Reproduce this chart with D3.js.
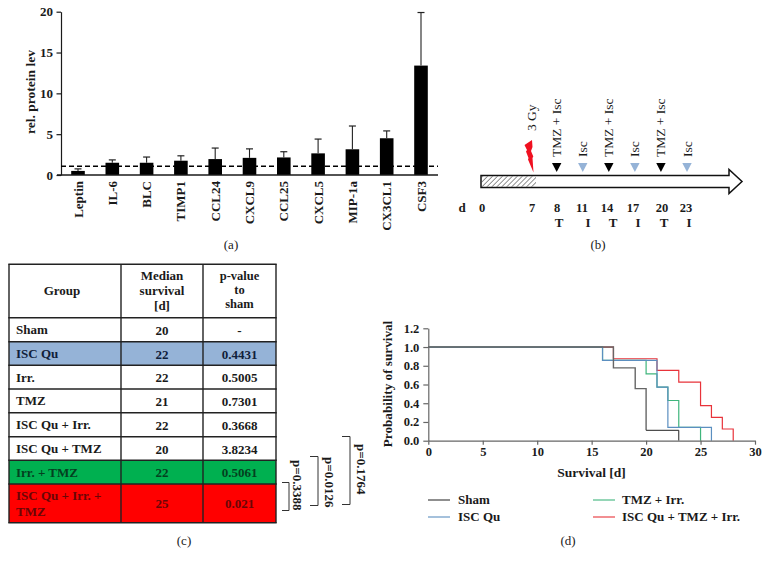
<!DOCTYPE html>
<html><head><meta charset="utf-8">
<script src="https://cdn.jsdelivr.net/npm/d3@7/dist/d3.min.js"></script>
<style>
html,body{margin:0;padding:0;background:#fff}
svg{display:block}
text{font-family:"Liberation Serif",serif;fill:#1a1a1a}
.b{font-weight:bold}
</style></head><body>
<svg id="c" width="769" height="568"></svg>
<script>
// Panel (a)
const proteins=["Leptin","IL-6","BLC","TIMP1","CCL24","CXCL9","CCL25","CXCL5","MIP-1a","CX3CL1","CSF3"];
const proteinMeans=[0.5,1.5,1.5,1.75,1.95,2.1,2.15,2.65,3.15,4.5,13.4];
const proteinTops=[0.75,1.85,2.2,2.35,3.3,3.2,2.85,4.4,6.0,5.4,19.9];
const proteinTicks=[0,5,10,15,20];
const baseline=1.07;
// Panel (b)
const dayLabels=[0,7,8,11,14,17,20,23];
const dayCodes=["T","I","T","I","T","I"];
const treatDays=[8,11,14,17,20,23];
const treatKinds=["TMZ + Isc","Isc","TMZ + Isc","Isc","TMZ + Isc","Isc"];
// Panel (c)
const tableGroups=["Sham","ISC Qu","Irr.","TMZ","ISC Qu + Irr.","ISC Qu + TMZ","Irr. + TMZ","ISC Qu + Irr. +|TMZ"];
const tableMedians=["20","22","22","21","22","20","22","25"];
const tablePvalues=["-","0.4431","0.5005","0.7301","0.3668","3.8234","0.5061","0.021"];
const tableFills=["#fff","#95b3d7","#fff","#fff","#fff","#fff","#00b050","#ff0000"];
const tableInks=["#1a1a1a","#10203a","#1a1a1a","#1a1a1a","#1a1a1a","#1a1a1a","#04401f","#6a0606"];
const bracketLabels=["p=0.3388","p=0.0126","p=0.1764"];
// Panel (d)
const survivalNames=["Sham","ISC Qu","TMZ + Irr.","ISC Qu + TMZ + Irr."];
const survivalColors=["#333","#5b8fc0","#3fb57c","#e8333a"];
const shamSteps=[[0,1],[17,.778],[19,.556],[20,.111],[23,0]];
const iscSteps=[[0,1],[16,.857],[21,.571],[22,.143],[26,0]];
const tmzSteps=[[0,1],[16,.857],[20,.714],[21,.571],[22,.429],[23,.143],[25,0]];
const triSteps=[[0,1],[17,.875],[21,.75],[23,.625],[25,.375],[26,.25],[27,.125],[28,0]];
const survivalXTicks=[0,5,10,15,20,25,30];
const survivalYTicks=[0,.2,.4,.6,.8,1,1.2];

const svg=d3.select("#c");
const ink="#1a1a1a";
function cap(x,y,s){svg.append("text").attr("x",x).attr("y",y).attr("text-anchor","middle").style("font-size","13px").text(s);}

/* ---------- (a) ---------- */
const ax=d3.scalePoint().domain(proteins).range([78,421]);
const ay=d3.scaleLinear().domain([0,20]).range([175,11.7]);
const ga=svg.append("g");
ga.selectAll("rect").data(proteins).join("rect")
 .attr("x",d=>ax(d)-6.8).attr("width",13.6)
 .attr("y",(d,i)=>ay(proteinMeans[i])).attr("height",(d,i)=>ay(0)-ay(proteinMeans[i])).attr("fill","#000");
ga.selectAll("line.e").data(proteins).join("line").attr("class","e")
 .attr("x1",d=>ax(d)).attr("x2",d=>ax(d))
 .attr("y1",(d,i)=>ay(proteinMeans[i])).attr("y2",(d,i)=>ay(proteinTops[i])).attr("stroke","#222").attr("stroke-width",1.1);
ga.selectAll("line.c").data(proteins).join("line").attr("class","c")
 .attr("x1",d=>ax(d)-3.5).attr("x2",d=>ax(d)+3.5)
 .attr("y1",(d,i)=>ay(proteinTops[i])).attr("y2",(d,i)=>ay(proteinTops[i])).attr("stroke","#222").attr("stroke-width",1.2);
const ayAxis=svg.append("g").attr("transform","translate(61,0)")
 .call(d3.axisLeft(ay).tickValues(proteinTicks).tickSize(4.5).tickPadding(3.5).tickSizeOuter(0));
ayAxis.selectAll("path,line").attr("stroke",ink).attr("stroke-width",1.2);
ayAxis.selectAll("text").attr("class","b").style("font-size","13px");
svg.append("line").attr("x1",57).attr("x2",438).attr("y1",ay(0)).attr("y2",ay(0)).attr("stroke",ink).attr("stroke-width",1.3);
svg.append("line").attr("x1",61).attr("x2",438).attr("y1",ay(baseline)).attr("y2",ay(baseline))
 .attr("stroke","#000").attr("stroke-width",1.5).attr("stroke-dasharray","5 3");
svg.selectAll("text.pl").data(proteins).join("text").attr("class","pl b")
 .attr("text-anchor","end").style("font-size","13px")
 .attr("transform",d=>`translate(${ax(d)+4.5},181) rotate(-90)`).text(d=>d);
svg.append("text").attr("class","b").attr("text-anchor","middle").style("font-size","13.5px")
 .attr("transform","translate(35,92) rotate(-90)").text("rel. protein lev");
cap(231,249,"(a)");

/* ---------- (b) ---------- */
const bx=d3.scaleLinear().domain([8,23]).range([556.7,687]);
const defs=svg.append("defs");
const pat=defs.append("pattern").attr("id","hatch").attr("patternUnits","userSpaceOnUse").attr("width",3.5).attr("height",3.5).attr("patternTransform","rotate(45)");
pat.append("line").attr("x1",0).attr("x2",0).attr("y1",0).attr("y2",3.5).attr("stroke","#222").attr("stroke-width",1);
const arrow=d3.path();
arrow.moveTo(481,175.5);arrow.lineTo(729,175.5);arrow.lineTo(729,169.5);arrow.lineTo(742,181.5);arrow.lineTo(729,193.5);arrow.lineTo(729,187.5);arrow.lineTo(481,187.5);arrow.closePath();
svg.append("path").attr("d",arrow.toString()).attr("fill","#fff").attr("stroke","#111").attr("stroke-width",1.5);
svg.append("rect").attr("x",481.8).attr("y",176.3).attr("width",54.2).attr("height",10.4).attr("fill","url(#hatch)");
const bolt=d3.path();
bolt.moveTo(532,140);bolt.lineTo(524.5,145);bolt.lineTo(527,150);bolt.lineTo(526,151.5);bolt.lineTo(528.5,158);bolt.lineTo(528,159.5);bolt.lineTo(533.5,172.5);bolt.lineTo(532.5,158);bolt.lineTo(533.3,156.5);bolt.lineTo(531,151);bolt.lineTo(532.5,147);bolt.closePath();
svg.append("path").attr("d",bolt.toString()).attr("fill","#f01020");
svg.selectAll("path.tri").data(treatDays).join("path").attr("class","tri")
 .attr("d",d=>`M${bx(d)-4.7},163L${bx(d)+4.7},163L${bx(d)},172Z`)
 .attr("fill",(d,i)=>i%2?"#95b3d7":"#000");
svg.selectAll("text.tk").data(treatDays).join("text").attr("class","tk")
 .attr("transform",d=>`translate(${bx(d)+4.5},157) rotate(-90)`).style("font-size","13.5px").text((d,i)=>treatKinds[i]);
svg.append("text").attr("transform","translate(536,131) rotate(-90)").style("font-size","13.5px").text("3 Gy");
const dayX=[482,532,557,582,607,633,662,686];
const codeX=[559,588,613,638,664,689];
svg.append("text").attr("class","b").attr("x",462).attr("y",212).attr("text-anchor","middle").style("font-size","13px").text("d");
svg.selectAll("text.dl").data(dayLabels).join("text").attr("class","dl b")
 .attr("x",(d,i)=>dayX[i]).attr("y",212).attr("text-anchor","middle").style("font-size","12.5px").text(d=>d);
svg.selectAll("text.dc").data(dayCodes).join("text").attr("class","dc b")
 .attr("x",(d,i)=>codeX[i]).attr("y",227).attr("text-anchor","middle").style("font-size","13px").text(d=>d);
cap(598,249,"(b)");

/* ---------- (c) ---------- */
const colX=[9,121,203,276];
const rowY=[264.3,317.7,341.7,365.3,389,412.7,436.7,460.3,484,522.7];
const tf="13px";
tableGroups.forEach((g,i)=>{
  const y0=rowY[i+1],y1=rowY[i+2],mid=(y0+y1)/2;
  svg.append("rect").attr("x",colX[0]).attr("y",y0).attr("width",colX[3]-colX[0]).attr("height",y1-y0).attr("fill",tableFills[i]);
  const ink2=tableInks[i];
  const parts=g.split("|");
  parts.forEach((p,k)=>{
    svg.append("text").attr("class","b").attr("x",16).attr("y",mid+4.5+(k-(parts.length-1)/2)*16).style("font-size",tf).style("fill",ink2).text(p);
  });
  svg.append("text").attr("class","b").attr("x",162).attr("y",mid+5).attr("text-anchor","middle").style("font-size",tf).style("fill",ink2).text(tableMedians[i]);
  svg.append("text").attr("class","b").attr("x",239.5).attr("y",mid+5).attr("text-anchor","middle").style("font-size",tf).style("fill",ink2).text(tablePvalues[i]);
});
rowY.forEach(y=>svg.append("line").attr("x1",colX[0]-.7).attr("x2",colX[3]+.7).attr("y1",y).attr("y2",y).attr("stroke","#222").attr("stroke-width",1.4));
colX.forEach(x=>svg.append("line").attr("x1",x).attr("x2",x).attr("y1",rowY[0]).attr("y2",rowY[9]).attr("stroke","#222").attr("stroke-width",1.4));
function hdr(x,ys,lines,fs){lines.forEach((l,i)=>svg.append("text").attr("class","b").attr("x",x).attr("y",ys[i]).attr("text-anchor","middle").style("font-size",fs||tf).text(l));}
hdr(62,[295],["Group"]);
hdr(162,[279.5,294.5,309.5],["Median","survival","[d]"]);
hdr(239.5,[280,294.2,308.4],["p-value","to","sham"],"12.5px");
const brLeft=[282,310,342], brX=[289,318,350], brTop=[482,456,436], brBot=[510,505,504];
const brTxtX=[293,325,357], brTxtY=[460,457,444];
bracketLabels.forEach((l,i)=>{
  svg.append("path").attr("d",`M${brLeft[i]},${brTop[i]+.5}H${brX[i]}V${brBot[i]+.5}H${brLeft[i]}`).attr("fill","none").attr("stroke","#333").attr("stroke-width",1);
  svg.append("text").attr("class","b").attr("transform",`translate(${brTxtX[i]},${brTxtY[i]}) rotate(90)`).style("font-size","13px").text(l);
});
cap(184,545,"(c)");

/* ---------- (d) ---------- */
const sx=d3.scaleLinear().domain([0,30]).range([428.3,755]);
const sy=d3.scaleLinear().domain([0,1.2]).range([440.7,328.3]);
const line=d3.line().x(d=>sx(d[0])).y(d=>sy(d[1])).curve(d3.curveStepAfter);
function drawSteps(s,color,w){svg.append("path").attr("d",line(s)).attr("fill","none").attr("stroke",color).attr("stroke-width",w);}
drawSteps(triSteps,survivalColors[3],1.2);
drawSteps(tmzSteps,survivalColors[2],1.2);
drawSteps(iscSteps,survivalColors[1],1.2);
drawSteps(shamSteps.slice(0,4),"#666",1.4);
drawSteps(shamSteps.slice(3),"#222",1);
const sxA=svg.append("g").attr("transform","translate(0,440.7)").call(d3.axisBottom(sx).tickValues(survivalXTicks).tickSize(4).tickPadding(2.5).tickSizeOuter(0));
const syA=svg.append("g").attr("transform","translate(428.3,0)").call(d3.axisLeft(sy).tickValues(survivalYTicks).tickFormat(d3.format(".1f")).tickSize(5).tickPadding(4).tickSizeOuter(0));
[sxA,syA].forEach(a=>{a.selectAll("path,line").attr("stroke","#666").attr("stroke-width",1.2);
 a.selectAll("text").attr("class","b").style("font-size","12.5px");});
svg.append("text").attr("class","b").attr("x",591.5).attr("y",477).attr("text-anchor","middle").style("font-size","13.5px").text("Survival [d]");
svg.append("text").attr("class","b").attr("text-anchor","middle").style("font-size","13.2px").attr("transform","translate(392,384) rotate(-90)").text("Probability of survival");
const legX=[428,428,593,593], legY=[500,517,500,517];
survivalNames.forEach((n,i)=>{
  svg.append("line").attr("x1",legX[i]).attr("x2",legX[i]+22).attr("y1",legY[i]).attr("y2",legY[i]).attr("stroke",survivalColors[i]).attr("stroke-width",1.1);
  svg.append("text").attr("class","b").attr("x",legX[i]+(i<2?30:29)).attr("y",legY[i]+4).style("font-size","13px").text(n);
});
cap(568,545,"(d)");
</script></body></html>
